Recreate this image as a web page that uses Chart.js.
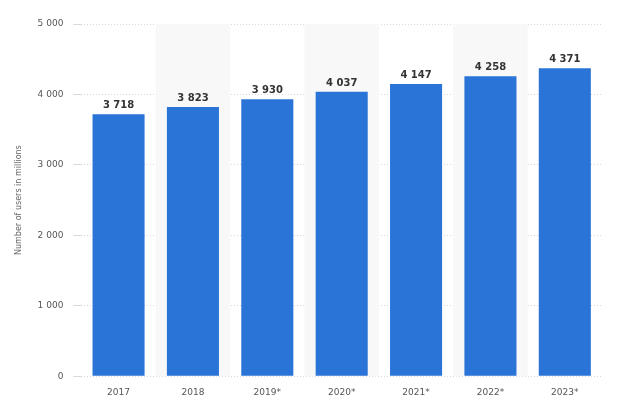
<!DOCTYPE html>
<html><head><meta charset="utf-8">
<script src="https://cdn.jsdelivr.net/npm/chart.js@4"></script>
<style>body{margin:0;background:#fff}#wrap{width:628px;height:418px}</style>
</head><body><div id="wrap"><canvas id="c"></canvas></div>
<script>
const years = ['2017', '2018', '2019*', '2020*', '2021*', '2022*', '2023*'];
const users = [3718, 3823, 3930, 4037, 4147, 4258, 4371];
const yTicks = [0, 1000, 2000, 3000, 4000, 5000];

const fmt = v => String(v).replace(/\B(?=(\d{3})+(?!\d))/g, ' ');

// shaded columns behind every second category
const bands = {
  id: 'bands',
  beforeDatasetsDraw(chart) {
    const { ctx, chartArea: a, scales: { x } } = chart;
    const w = x.width / years.length;
    ctx.save();
    ctx.fillStyle = '#f8f8f8';
    years.forEach((y, i) => {
      if (i % 2 === 1) ctx.fillRect(x.getPixelForValue(i) - w / 2, a.top, w, a.bottom - a.top);
    });
    ctx.restore();
  }
};

const labels = {
  id: 'labels',
  afterDatasetsDraw(chart) {
    const { ctx } = chart;
    ctx.save();
    ctx.font = 'bold 10px "DejaVu Sans"';
    ctx.fillStyle = '#333';
    ctx.textAlign = 'center';
    chart.getDatasetMeta(0).data.forEach((b, i) => ctx.fillText(fmt(users[i]), b.x, b.y - 6));
    ctx.restore();
  }
};

new Chart(document.getElementById('c'), {
  type: 'bar',
  data: { labels: years, datasets: [{ data: users, backgroundColor: '#2a74d8', categoryPercentage: 1, barPercentage: 0.7 }] },
  options: {
    responsive: true, maintainAspectRatio: false, animation: false,
    layout: { padding: { top: 24, right: 26, left: 10, bottom: 17 } },
    plugins: { legend: { display: false }, tooltip: { enabled: false } },
    scales: {
      x: {
        grid: { display: false }, border: { display: false },
        ticks: { color: '#555', font: { family: 'DejaVu Sans', size: 9 } }
      },
      y: {
        min: 0, max: 5000,
        afterBuildTicks: s => { s.ticks = yTicks.map(v => ({ value: v })); },
        border: { display: false, dash: [1, 2] },
        grid: { color: '#d8d8d8' },
        ticks: { color: '#555', padding: 10, font: { family: 'DejaVu Sans', size: 9 }, callback: v => fmt(v) },
        title: { display: true, text: 'Number of users in millions', color: '#666', font: { family: 'DejaVu Sans', size: 8 } }
      }
    }
  },
  plugins: [bands, labels]
});
</script></body></html>
